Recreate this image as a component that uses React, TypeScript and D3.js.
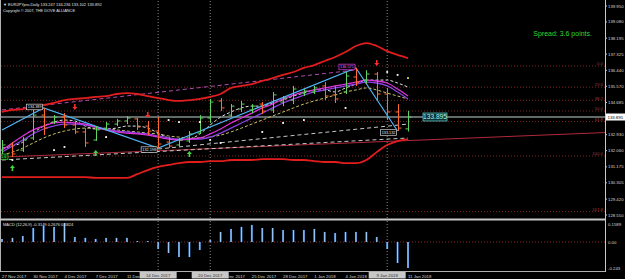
import React from "react";
import * as d3 from "d3";

const dates = ["27 Nov 2017","28 Nov 2017","29 Nov 2017","30 Nov 2017","1 Dec 2017","3 Dec 2017","4 Dec 2017","5 Dec 2017","6 Dec 2017","7 Dec 2017","8 Dec 2017","10 Dec 2017","11 Dec 2017","12 Dec 2017","13 Dec 2017","14 Dec 2017","15 Dec 2017","17 Dec 2017","18 Dec 2017","19 Dec 2017","20 Dec 2017","21 Dec 2017","22 Dec 2017","24 Dec 2017","25 Dec 2017","26 Dec 2017","27 Dec 2017","28 Dec 2017","29 Dec 2017","31 Dec 2017","1 Jan 2018","2 Jan 2018","3 Jan 2018","4 Jan 2018","5 Jan 2018","7 Jan 2018","8 Jan 2018","9 Jan 2018","10 Jan 2018","11 Jan 2018"];

const opens = [132.09,132.37,132.09,132.75,134.00,133.62,133.89,133.46,133.08,132.64,133.29,133.51,133.68,133.79,133.40,133.13,132.53,132.37,132.59,133.02,133.84,134.77,134.00,134.33,134.28,134.60,134.28,134.71,134.82,135.20,135.26,135.59,135.10,135.26,136.08,135.91,136.24,135.15,134.17,133.247];
const highs = [132.64,132.53,132.80,134.28,134.389,134.00,134.11,133.62,133.29,133.40,133.62,133.79,133.95,133.84,133.68,133.89,132.80,132.75,133.13,134.00,134.88,134.93,134.60,134.77,134.60,134.71,135.26,135.04,135.59,135.42,135.59,135.80,135.59,136.35,136.571,136.45,136.35,135.48,134.60,134.236];
const lows = [131.82,131.71,131.99,132.64,132.91,133.51,133.29,132.97,132.26,132.59,133.19,133.40,133.51,133.19,132.91,132.198,132.20,132.26,132.48,132.97,133.57,134.22,133.89,134.17,134.11,134.06,134.11,134.49,134.60,135.04,135.15,134.82,134.66,135.15,135.59,135.70,134.82,133.73,133.132,133.102];
const closes = [132.37,131.88,132.64,134.00,133.29,133.89,133.46,133.08,132.48,133.19,133.51,133.68,133.84,133.35,133.13,132.42,132.31,132.64,132.97,133.84,134.71,134.39,134.49,134.60,134.49,134.22,135.10,134.93,135.42,135.31,135.48,135.04,134.88,136.13,135.80,136.24,135.15,134.17,133.29,133.892];

const upperBand = [134.17,134.28,134.33,134.44,134.55,134.66,134.82,134.88,134.93,134.99,135.04,135.15,135.20,135.15,135.04,134.93,134.82,134.77,134.82,134.88,134.99,135.15,135.48,135.59,135.69,135.86,136.02,136.19,136.35,136.57,136.73,136.95,137.17,137.44,137.77,137.93,137.77,137.49,137.28,137.11];
const lowerBand = [130.62,130.62,130.62,130.62,130.62,130.62,130.62,130.62,130.62,130.57,130.57,130.57,130.57,130.78,131.00,131.17,131.28,131.38,131.44,131.44,131.49,131.49,131.55,131.55,131.55,131.60,131.60,131.60,131.55,131.55,131.49,131.44,131.44,131.38,131.38,131.55,131.98,132.37,132.58,132.69];
const maMagenta = [132.09,132.48,132.86,133.19,133.40,133.57,133.62,133.57,133.51,133.35,133.19,133.08,133.02,132.97,132.91,132.80,132.69,132.64,132.69,132.75,132.97,133.24,133.57,133.84,134.11,134.39,134.60,134.88,135.09,135.26,135.37,135.48,135.59,135.69,135.80,135.91,135.86,135.75,135.42,135.04];
const maViolet = [131.98,132.31,132.64,132.97,133.24,133.40,133.51,133.51,133.46,133.35,133.24,133.13,133.08,133.02,132.97,132.86,132.75,132.69,132.69,132.69,132.80,133.02,133.29,133.57,133.84,134.11,134.39,134.66,134.88,135.09,135.26,135.37,135.48,135.59,135.69,135.80,135.75,135.59,135.26,134.88];
const maYellowDash = [131.82,131.98,132.20,132.48,132.75,132.97,133.13,133.24,133.29,133.29,133.24,133.19,133.13,133.08,133.02,132.97,132.86,132.80,132.75,132.75,132.80,132.91,133.08,133.29,133.51,133.73,133.95,134.17,134.39,134.60,134.77,134.93,135.09,135.26,135.37,135.48,135.37,135.20,135.04,134.88];
const maWhiteDash = [132.20,132.31,132.53,133.02,133.40,133.62,133.73,133.68,133.40,133.24,133.24,133.29,133.40,133.40,133.29,133.02,132.75,132.64,132.69,132.97,133.46,133.89,134.17,134.39,134.49,134.49,134.66,134.82,135.04,135.20,135.37,135.37,135.26,135.48,135.69,135.91,135.91,135.91,135.75,135.53];

const zigzagIdx = [0, 4, 15, 34, 38];
const zigzagPrice = [133.19, 134.389, 132.198, 136.571, 133.132];

const dotIdx = [1, 5, 6, 10, 16, 17, 19, 20, 21, 25, 27, 29, 33, 37, 38, 39];
const dotPrice = [131.55, 132.09, 132.26, 132.80, 133.73, 133.62, 133.62, 132.64, 132.48, 133.08, 133.57, 133.73, 134.39, 136.35, 136.19, 136.02];

const upArrowIdx = [1, 9, 18];
const upArrowPrice = [131.11, 131.93, 131.88];
const downArrowIdx = [7, 14, 36];
const downArrowPrice = [134.44, 134.00, 136.84];

const trendIdx = [0, 39];
const trendPrice = [131.71, 132.61];
const channelLowIdx = [0, 39];
const channelLowPrice = [131.55, 132.75];
const channelMidIdx = [15, 39];
const channelMidPrice = [132.15, 133.51];
const channelUpIdx = [0, 34];
const channelUpPrice = [134.28, 136.46];

const fibHigh = 136.68;
const fibLow = 131.77;
const fibLevels = [0, 23.6, 38.2, 50, 61.8, 100, 161.8];

const priceTicks = [139.95, 139.08, 138.195, 137.325, 136.44, 135.57, 134.685, 133.815, 132.93, 132.06, 131.175, 130.305, 129.42, 128.55];
const lastPrice = 133.895;

const macdHist = [0.025,0.034,0.050,0.117,0.134,0.126,0.159,0.042,0.034,0.025,0.034,0.034,0.034,0.008,0.008,-0.059,-0.092,-0.126,-0.126,-0.067,0.017,0.084,0.109,0.126,0.142,0.117,0.117,0.100,0.100,0.100,0.109,0.084,0.075,0.084,0.084,0.084,0.042,-0.059,-0.176,-0.218];
const macdMax = 0.1589;
const macdMin = -0.243;

const vLineIdx = [15, 20, 37];

export default function App() {
  const W = 625, H = 279;
  const plotR = 605, mainB = 218;
  const font = "'Liberation Sans', Arial, sans-serif";
  const x = d3.scaleLinear().domain([0, dates.length - 1]).range([2, 408]);
  const y = d3.scaleLinear().domain([128.55, 139.95]).range([215, 6]);
  const ym = d3.scaleLinear().domain([macdMin, macdMax]).range([271, 223]);
  const pathOf = (arr: number[]) =>
    d3.line<number>().x((_, i) => x(i)).y((d) => y(d)).curve(d3.curveMonotoneX)(arr) || "";
  const ray = (idx: number[], pr: number[], i0: number, i1: number) => {
    const slope = (pr[1] - pr[0]) / (idx[1] - idx[0]);
    const p = (i: number) => pr[0] + slope * (i - idx[0]);
    return { x1: x(i0), y1: y(p(i0)), x2: x(i1), y2: y(p(i1)) };
  };
  const iLeft = x.invert(0);
  const iRight = x.invert(plotR);
  const up = "#5fd35f", dn = "#ff6a33";
  const tr = ray(trendIdx, trendPrice, iLeft, iRight);
  const cl = ray(channelLowIdx, channelLowPrice, 0, 39);
  const cm = ray(channelMidIdx, channelMidPrice, 15, 39);
  const cu = ray(channelUpIdx, channelUpPrice, 0, 34);
  const zz = d3.line<number>().x((d) => x(d)).y((_, i) => y(zigzagPrice[i]))(zigzagIdx) || "";
  const fmtTick = d3.format(".3f");
  const boxHalf = 18.5;
  const labelW = 24;
  const hiddenByBox = (i: number) =>
    vLineIdx.some((v) => {
      const bl = x(v) - boxHalf, br = x(v) + boxHalf;
      const ov = Math.min(x(i) + labelW, br) - Math.max(x(i), bl);
      return ov > labelW / 2;
    });

  return (
    <svg width={W} height={H} style={{ position: "fixed", left: 0, top: 0, background: "#000" }} fontFamily={font}>
      <defs>
        <clipPath id="mainclip"><rect x={1} y={1} width={plotR - 1} height={mainB - 1} /></clipPath>
        <clipPath id="macdclip"><rect x={1} y={221} width={plotR - 1} height={50} /></clipPath>
      </defs>
      <rect x={0} y={0} width={W} height={H} fill="#000" />

      <g clipPath="url(#mainclip)">
        {fibLevels.map((lv) => {
          const py = y(fibHigh - (fibHigh - fibLow) * lv / 100);
          return (
            <g key={"f" + lv}>
              <line x1={1} x2={plotR} y1={py} y2={py} stroke="#7a2424" strokeWidth={1} strokeDasharray="1,2" />
              <text x={603} y={py - 0.8} fontSize={4.3} fill="#a83636" textAnchor="end">{lv.toFixed(1)}</text>
            </g>
          );
        })}
        {vLineIdx.map((i) => (
          <line key={"v" + i} x1={x(i)} x2={x(i)} y1={1} y2={mainB} stroke="#8a8a8a" strokeDasharray="1,2" />
        ))}
        <line {...tr} stroke="#b02a3a" strokeWidth={1} />
        <line x1={1} x2={plotR} y1={y(lastPrice)} y2={y(lastPrice)} stroke="#c4d2d2" strokeWidth={1} />
        <line {...cl} stroke="#c8c8c8" strokeWidth={1} strokeDasharray="4,3" />
        <line {...cm} stroke="#c8c8c8" strokeWidth={1} strokeDasharray="4,3" />
        <line {...cu} stroke="#b24cb2" strokeWidth={1} strokeDasharray="4,3" />
        <path d={pathOf(upperBand)} fill="none" stroke="#e21d1d" strokeWidth={1.8} />
        <path d={pathOf(lowerBand)} fill="none" stroke="#e21d1d" strokeWidth={1.8} />
        <path d={pathOf(maYellowDash)} fill="none" stroke="#c9c268" strokeWidth={1} strokeDasharray="3,2" />
        <path d={pathOf(maWhiteDash)} fill="none" stroke="#dcdcdc" strokeWidth={1} strokeDasharray="3,2" />
        <path d={pathOf(maViolet)} fill="none" stroke="#8a3fe0" strokeWidth={1.3} />
        <path d={pathOf(maMagenta)} fill="none" stroke="#d834d8" strokeWidth={1.3} />
        <path d={zz} fill="none" stroke="#4fb2f2" strokeWidth={1.2} />
        {dates.map((d, i) => {
          const c = closes[i] >= opens[i] ? up : dn;
          const cx = Math.round(x(i)) + 0.5;
          return (
            <g key={"b" + i} stroke={c} strokeWidth={1}>
              <line x1={cx} x2={cx} y1={y(highs[i])} y2={y(lows[i])} />
              <line x1={cx - 3} x2={cx} y1={y(opens[i])} y2={y(opens[i])} />
              <line x1={cx} x2={cx + 3} y1={y(closes[i])} y2={y(closes[i])} />
            </g>
          );
        })}
        {dotIdx.map((i, k) => (
          <rect key={"d" + k} x={x(i) - 0.9} y={y(dotPrice[k]) - 0.9} width={1.8} height={1.8}
            fill={k === dotIdx.length - 1 ? "#e6e04a" : "#ffffff"} />
        ))}
        {upArrowIdx.map((i, k) => {
          const cx = x(i), cy = y(upArrowPrice[k]);
          return <path key={"u" + k} d={`M${cx},${cy - 3}L${cx - 2.5},${cy}L${cx - 0.8},${cy}L${cx - 0.8},${cy + 3}L${cx + 0.8},${cy + 3}L${cx + 0.8},${cy}L${cx + 2.5},${cy}Z`} fill="#3fd83f" />;
        })}
        {downArrowIdx.map((i, k) => {
          const cx = x(i), cy = y(downArrowPrice[k]);
          return <path key={"w" + k} d={`M${cx},${cy + 3}L${cx - 2.5},${cy}L${cx - 0.8},${cy}L${cx - 0.8},${cy - 3}L${cx + 0.8},${cy - 3}L${cx + 0.8},${cy}L${cx + 2.5},${cy}Z`} fill="#ff2a2a" />;
        })}
        {zigzagIdx.slice(1).map((i, k) => {
          const p = zigzagPrice[k + 1];
          const cx = x(i) - 9, cy = y(p) + (k % 2 === 0 ? -1 : 1.5);
          const top = p === d3.max(zigzagPrice);
          return (
            <g key={"zl" + k}>
              <rect x={cx - 8} y={cy - 2.8} width={16} height={5.6} fill="#000" stroke={top ? "#e040e0" : "#d8d8d8"} strokeWidth={0.7} />
              <text x={cx} y={cy + 1.3} fontSize={3.8} fill={top ? "#f070f0" : "#e8e8e8"} textAnchor="middle">{fmtTick(p)}</text>
            </g>
          );
        })}
        <rect x={-4} y={154} width={12} height={5.5} fill="#002a00" stroke="#3fcf3f" strokeWidth={0.7} />
        <text x={1} y={158.2} fontSize={3.8} fill="#6fef6f">1.6</text>
        <rect x={423} y={y(lastPrice) - 4} width={24} height={8} fill="#0d3434" stroke="#5fbcbc" strokeWidth={0.8} />
        <text x={435} y={y(lastPrice) + 2.4} fontSize={6.6} fill="#a8f4f4" textAnchor="middle">{lastPrice.toFixed(3)}</text>
        <text x={592} y={35.5} fontSize={7} fill="#32d732" textAnchor="end">Spread: 3.6 points.</text>
      </g>

      <text x={3} y={6} fontSize={4} fill="#e0e0e0">{"\u25BC EURJPYpro,Daily  133.247 134.236 133.102 133.892"}</text>
      <text x={3} y={11.5} fontSize={3.9} fill="#e0e0e0">Copyright © 2007, THE DOVE ALLIANCE</text>

      <g clipPath="url(#macdclip)">
        {vLineIdx.map((i) => (
          <line key={"mv" + i} x1={x(i)} x2={x(i)} y1={221} y2={271} stroke="#8a8a8a" strokeDasharray="1,2" />
        ))}
        <line x1={1} x2={plotR} y1={ym(0)} y2={ym(0)} stroke="#8a2a2a" strokeDasharray="1,2" />
        {macdHist.map((v, i) => (
          <g key={"m" + i}>
            <rect x={x(i) - 1} y={Math.min(ym(0), ym(v))} width={2} height={Math.abs(ym(v) - ym(0))} fill="#3f7fd0" />
            <rect x={x(i) - 0.4} y={Math.min(ym(0), ym(v))} width={0.8} height={Math.abs(ym(v) - ym(0))} fill="#b4dcff" />
          </g>
        ))}
      </g>
      <text x={3} y={225.5} fontSize={4} fill="#e0e0e0">MACD (12,26,9) -0.3149 0.2676 0.5824</text>

      <line x1={0.5} x2={0.5} y1={0} y2={271} stroke="#b0b0b0" />
      <line x1={0} x2={plotR} y1={219.5} y2={219.5} stroke="#c8c8c8" strokeWidth={2} />
      <line x1={0} x2={plotR} y1={271.5} y2={271.5} stroke="#b0b0b0" />
      <line x1={plotR + 0.5} x2={plotR + 0.5} y1={0} y2={272} stroke="#c8c8c8" />

      {priceTicks.map((p) => (
        <g key={"t" + p}>
          <line x1={plotR} x2={plotR + 2} y1={y(p)} y2={y(p)} stroke="#c8c8c8" />
          <text x={608} y={y(p) + 1.5} fontSize={4.3} fill="#d8d8d8">{fmtTick(p)}</text>
        </g>
      ))}
      <rect x={606} y={y(lastPrice) - 3.5} width={19} height={7} fill="#ffffff" />
      <text x={607.5} y={y(lastPrice) + 1.5} fontSize={4.3} fill="#000">{fmtTick(lastPrice)}</text>

      {[macdMax, 0, macdMin].map((v, k) => (
        <text key={"ma" + k} x={608} y={(k === 0 ? 224 : k === 1 ? 242 : 268) + 1.5} fontSize={4.3} fill="#d8d8d8">
          {k === 0 ? v.toFixed(4) : k === 1 ? "0.00" : v.toFixed(3)}
        </text>
      ))}

      {dates.map((d, i) => i % 3 === 0 && !hiddenByBox(i) ? (
        <text key={"dl" + i} x={x(i)} y={277.5} fontSize={4.3} fill="#d8d8d8">{d}</text>
      ) : null)}
      {vLineIdx.map((i) => (
        <g key={"vb" + i}>
          <rect x={x(i) - boxHalf} y={272} width={boxHalf * 2} height={6.5} fill="#c8c8c8" />
          <text x={x(i)} y={277} fontSize={4.3} fill="#303030" textAnchor="middle">{dates[i]}</text>
        </g>
      ))}
    </svg>
  );
}
